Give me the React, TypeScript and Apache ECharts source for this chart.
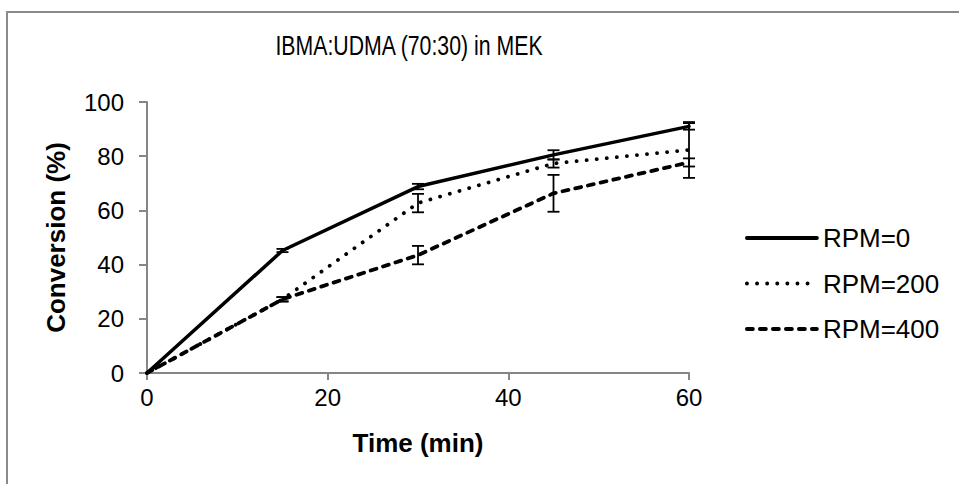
import React, { useEffect, useRef } from "react";
import * as echarts from "echarts";

// Sampling times (min)
const times = [0, 15, 30, 45, 60];
// Conversion (%) and standard deviations per stirring speed
const rpm0 = [0, 45.2, 68.8, 80.5, 91.0];
const rpm0Err = [0, 0.6, 1.0, 1.7, 1.2];
const rpm200 = [0, 27.2, 62.7, 77.3, 82.3];
const rpm200Err = [0, 0.8, 3.4, 1.5, 10.3];
const rpm400 = [0, 27.2, 43.5, 66.3, 77.7];
const rpm400Err = [0, 0.8, 3.4, 6.8, 1.5];
const seriesNames = ["RPM=0", "RPM=200", "RPM=400"];
const xTicks = [0, 20, 40, 60];

const FONT = "'Liberation Sans', Arial, sans-serif";

function pairs(ys: number[]) {
  return times.map((t, i) => [t, ys[i]]);
}

function errData(ys: number[], es: number[]) {
  return times
    .map((t, i) => [t, ys[i] - es[i], ys[i] + es[i]])
    .filter((d, i) => es[i] > 0);
}

function errorSeries(ys: number[], es: number[]) {
  return {
    type: "custom",
    data: errData(ys, es),
    z: 5,
    silent: true,
    renderItem: (params: any, api: any) => {
      const x = api.value(0);
      const lo = api.coord([x, api.value(1)]);
      const hi = api.coord([x, api.value(2)]);
      const cap = 6;
      const style = { stroke: "#000", lineWidth: 1.8 };
      return {
        type: "group",
        children: [
          { type: "line", shape: { x1: lo[0], y1: lo[1], x2: hi[0], y2: hi[1] }, style },
          { type: "line", shape: { x1: lo[0] - cap, y1: lo[1], x2: lo[0] + cap, y2: lo[1] }, style },
          { type: "line", shape: { x1: hi[0] - cap, y1: hi[1], x2: hi[0] + cap, y2: hi[1] }, style },
        ],
      };
    },
  };
}

export default function App() {
  const ref = useRef<HTMLDivElement>(null);

  useEffect(() => {
    if (!ref.current) return;
    const chart = echarts.init(ref.current, null, { renderer: "svg" });
    const axisColor = "#868686";
    chart.setOption({
      animation: false,
      backgroundColor: "#fff",
      textStyle: { fontFamily: FONT },
      graphic: [
        {
          type: "rect",
          shape: { x: 7, y: 12, width: 1000, height: 500 },
          style: { fill: "none", stroke: "#8a8a8a", lineWidth: 2 },
          silent: true,
        },
        {
          type: "text",
          x: 409,
          y: 45,
          scaleX: 0.76,
          style: {
            text: "IBMA:UDMA (70:30) in MEK",
            font: `28px ${FONT}`,
            fill: "#000",
            textAlign: "center",
            textVerticalAlign: "middle",
          },
        },
      ],
      grid: { left: 147, right: 270, top: 102, bottom: 111, containLabel: false },
      legend: {
        data: seriesNames,
        orient: "vertical",
        left: 740,
        top: 220,
        itemWidth: 70,
        itemHeight: 25,
        itemGap: 19.5,
        itemStyle: { opacity: 0 },
        lineStyle: { width: 3.8 },
        textStyle: { fontSize: 26, color: "#000", fontFamily: FONT, padding: [0, 0, 0, 1] },
      },
      xAxis: {
        type: "value",
        min: 0,
        max: 60,
        interval: 20,
        name: "Time (min)",
        nameLocation: "middle",
        nameGap: 57,
        nameTextStyle: { fontSize: 26, fontWeight: "bold", color: "#000", fontFamily: FONT },
        axisLine: { lineStyle: { color: axisColor, width: 2 } },
        axisTick: { show: true, length: 7, lineStyle: { color: axisColor, width: 2 } },
        axisLabel: {
          fontSize: 24,
          color: "#000",
          margin: 12,
          customValues: xTicks,
        },
        splitLine: { show: false },
      },
      yAxis: {
        type: "value",
        min: 0,
        max: 100,
        interval: 20,
        name: "Conversion (%)",
        nameLocation: "middle",
        nameGap: 78,
        nameRotate: 90,
        nameTextStyle: { fontSize: 26, fontWeight: "bold", color: "#000", fontFamily: FONT },
        axisLine: { show: true, lineStyle: { color: axisColor, width: 2 } },
        axisTick: { show: true, length: 8, lineStyle: { color: axisColor, width: 2 } },
        axisLabel: { fontSize: 24, color: "#000", margin: 23 },
        splitLine: { show: false },
      },
      series: [
        {
          name: seriesNames[0],
          type: "line",
          data: pairs(rpm0),
          symbol: "none",
          z: 4,
          lineStyle: { color: "#000", width: 3.5, type: "solid", cap: "round", join: "round" },
          itemStyle: { color: "#000" },
        },
        {
          name: seriesNames[1],
          type: "line",
          data: pairs(rpm200),
          symbol: "none",
          z: 3,
          lineStyle: { color: "#000", width: 3.8, type: [0.1, 10], cap: "round", join: "round" },
          itemStyle: { color: "#000" },
        },
        {
          name: seriesNames[2],
          type: "line",
          data: pairs(rpm400),
          symbol: "none",
          z: 3,
          lineStyle: { color: "#000", width: 3.8, type: [6, 7], cap: "round", join: "round" },
          itemStyle: { color: "#000" },
        },
        errorSeries(rpm0, rpm0Err),
        errorSeries(rpm200, rpm200Err),
        errorSeries(rpm400, rpm400Err),
      ],
    });
    return () => chart.dispose();
  }, []);

  return (
    <div
      ref={ref}
      style={{ position: "fixed", left: 0, top: 0, width: 959, height: 484, background: "#fff" }}
    />
  );
}
